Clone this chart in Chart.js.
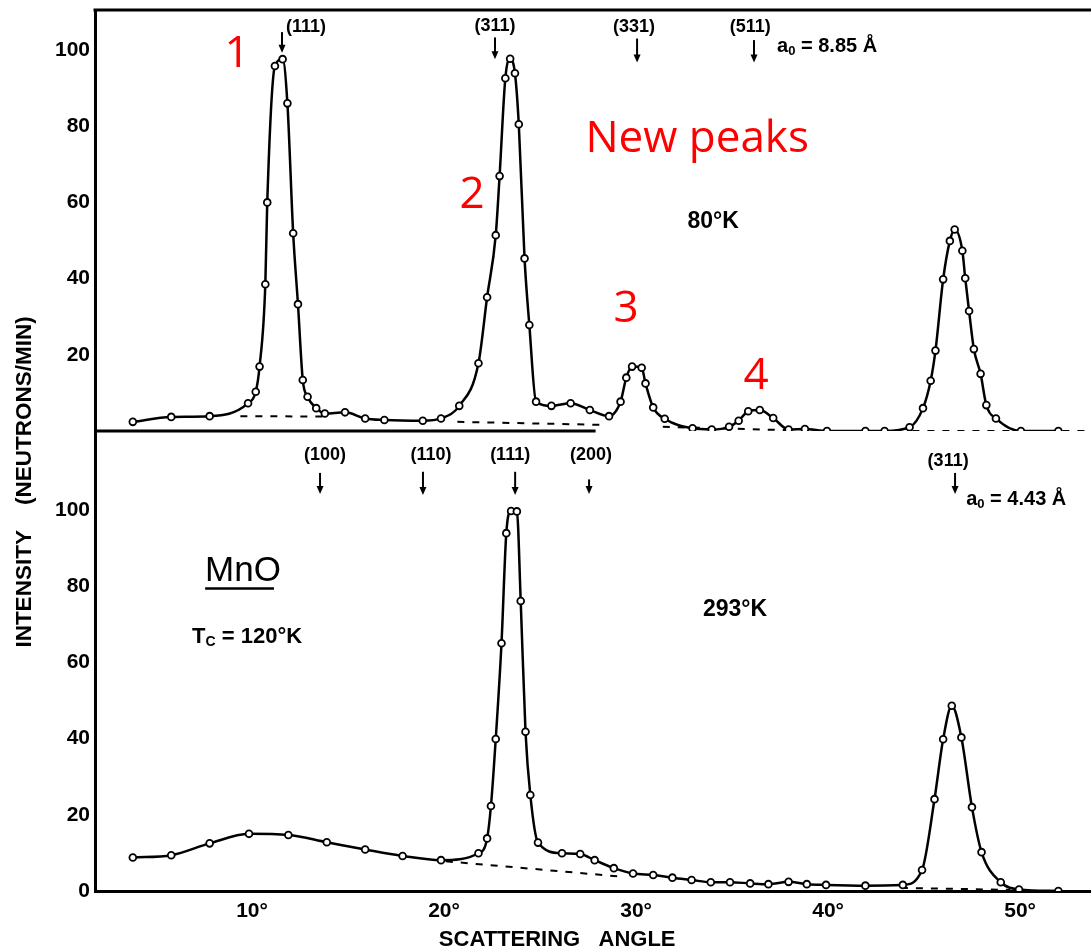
<!DOCTYPE html>
<html><head><meta charset="utf-8">
<script src="https://cdn.jsdelivr.net/npm/chart.js@4.4.1/dist/chart.umd.min.js"></script>
<style>html,body{margin:0;padding:0;background:#fff;}canvas{display:block;}</style>
</head><body><canvas id="c" width="1091" height="951"></canvas>
<script>
// ---- data ----
const topAngles = [4.0, 6.0, 8.0, 10.0, 10.4, 10.6, 10.9, 11.0, 11.4, 11.8, 12.05, 12.35, 12.6, 12.85, 13.1, 13.55, 14.0, 15.05, 16.1, 17.1, 19.1, 20.05, 21.0, 22.0, 22.45, 22.9, 23.1, 23.4, 23.65, 23.9, 24.1, 24.4, 24.65, 25.0, 25.8, 26.8, 27.8, 28.8, 29.4, 29.7, 30.0, 30.5, 30.7, 31.1, 31.7, 33.15, 34.15, 35.05, 35.55, 36.05, 36.65, 37.35, 38.15, 39.0, 40.15, 42.15, 43.15, 44.45, 45.15, 45.55, 45.8, 46.2, 46.55, 46.8, 47.2, 47.35, 47.55, 47.8, 48.15, 48.45, 48.95, 50.25, 52.2];
const topIntensity = [2.4, 3.7, 3.9, 7.3, 10.3, 16.9, 38.5, 60.0, 95.8, 97.6, 86.0, 51.9, 33.3, 13.4, 9.0, 6.0, 4.6, 4.9, 3.3, 2.9, 2.7, 3.3, 6.6, 17.8, 35.1, 51.4, 66.9, 92.6, 97.7, 93.9, 80.5, 45.3, 27.8, 7.7, 6.6, 7.3, 5.5, 3.9, 7.7, 14.0, 16.9, 16.6, 12.5, 6.2, 3.2, 0.7, 0.4, 1.1, 2.7, 5.2, 5.5, 3.4, 0.4, 0.5, 0, 0, 0, 1.0, 6.0, 13.2, 21.1, 39.8, 49.9, 52.9, 47.3, 40.1, 31.5, 21.5, 15.0, 6.8, 3.3, 0, 0];
const topBaseAngles = [9.6, 13.9, 16, 20.9, 28.6, 30, 31.6, 38.2, 40, 44.6, 53.9];
const topBaseIntensity = [3.9, 3.8, null, 2.4, 1.6, null, 1.1, 0.2, null, 0, 0];

const botAngles = [4.0, 6.0, 8.0, 10.05, 12.1, 14.1, 16.1, 18.05, 20.05, 22.0, 22.45, 22.65, 22.9, 23.2, 23.45, 23.7, 24.0, 24.2, 24.45, 24.7, 25.1, 26.35, 27.3, 28.05, 29.05, 30.05, 31.1, 32.1, 33.1, 34.1, 35.1, 36.15, 37.1, 38.15, 39.1, 40.1, 42.15, 44.1, 45.1, 45.75, 46.2, 46.65, 47.15, 47.7, 48.2, 49.2, 50.15, 52.2];
const botIntensity = [8.8, 9.4, 12.5, 15.0, 14.7, 12.8, 10.9, 9.2, 8.1, 9.9, 13.8, 22.3, 39.9, 65.0, 93.9, 99.7, 99.6, 76.1, 41.8, 25.2, 12.7, 9.9, 9.7, 8.1, 6.0, 4.6, 4.2, 3.5, 2.9, 2.3, 2.3, 2.0, 1.8, 2.4, 1.8, 1.6, 1.4, 1.6, 5.5, 24.1, 39.8, 48.6, 40.3, 22.0, 10.2, 2.3, 0.4, 0];
const botBaseAngles = [20.3, 29.6, 36, 44.0, 49.7];
const botBaseIntensity = [7.8, 3.7, null, 0.8, 0.3];

const topReflections = ['(111)', '(311)', '(331)', '(511)'];
const topReflectionAngles = [11.77, 22.86, 30.26, 36.35];
const botReflections = ['(100)', '(110)', '(111)', '(200)', '(311)'];
const botReflectionAngles = [13.75, 19.11, 23.91, 27.76, 46.82];

const xTicks = [10, 20, 30, 40, 50];
const xTickLabels = ['10°', '20°', '30°', '40°', '50°'];
const yTicksTop = [20, 40, 60, 80, 100];
const yTicksBot = [0, 20, 40, 60, 80, 100];

// ---- layout / styling ----
const F = '"Liberation Sans", Arial, sans-serif';
const RED = '#ff0000';
const topRefLayout = [ // label x, label y, arrow top, arrow bottom (data units)
  {lx: 13.02, ly: 106.0, a1: 104.7, a2: 99.3},
  {lx: 22.86, ly: 106.2, a1: 103.3, a2: 97.6},
  {lx: 30.10, ly: 106.0, a1: 103.0, a2: 96.7},
  {lx: 36.15, ly: 106.0, a1: 102.6, a2: 96.7}
];
const botRefLayout = [
  {lx: 14.01, ly: 114.4, a1: 109.7, a2: 104.2},
  {lx: 19.53, ly: 114.4, a1: 110.0, a2: 103.9},
  {lx: 23.65, ly: 114.4, a1: 110.0, a2: 103.9},
  {lx: 27.86, ly: 114.4, a1: 108.0, a2: 104.2},
  {lx: 46.46, ly: 112.9, a1: 109.7, a2: 104.2}
];

function rich(ctx, segs, x, y, align) {
  let w = 0;
  segs.forEach(s => { ctx.font = s.font; s.w = ctx.measureText(s.t).width; w += s.w; });
  let cx = align === 'left' ? x : x - w / 2;
  ctx.textAlign = 'left'; ctx.textBaseline = 'middle';
  segs.forEach(s => { ctx.font = s.font; ctx.fillText(s.t, cx, y + (s.dy || 0)); cx += s.w; });
}

const annotPlugin = {
  id: 'annot',
  afterDraw(chart) {
    const {ctx, chartArea: ca} = chart;
    const x = chart.scales.x, yT = chart.scales.yTop, yB = chart.scales.yBot;
    ctx.save();
    ctx.fillStyle = '#000'; ctx.strokeStyle = '#000'; ctx.lineCap = 'butt';
    const line = (x1, y1, x2, y2) => { ctx.beginPath(); ctx.moveTo(x1, y1); ctx.lineTo(x2, y2); ctx.stroke(); };
    // frame: top edge and partial divider between the panels
    ctx.lineWidth = 3;
    line(ca.left - 1.5, ca.top, ca.right, ca.top);
    const yd = yT.getPixelForValue(0);
    line(ca.left, yd, x.getPixelForValue(28.1), yd);

    const arrow = (xp, y1, y2) => {
      ctx.lineWidth = 2;
      line(xp, y1, xp, y2 - 6);
      ctx.beginPath(); ctx.moveTo(xp - 3.5, y2 - 8); ctx.lineTo(xp + 3.5, y2 - 8); ctx.lineTo(xp, y2); ctx.closePath(); ctx.fill();
    };
    const idxFont = 'bold 18px ' + F;
    ctx.textAlign = 'center'; ctx.textBaseline = 'middle';
    topReflections.forEach((t, i) => {
      const L = topRefLayout[i];
      ctx.font = idxFont;
      ctx.fillText(t, x.getPixelForValue(L.lx), yT.getPixelForValue(L.ly));
      arrow(x.getPixelForValue(topReflectionAngles[i]), yT.getPixelForValue(L.a1), yT.getPixelForValue(L.a2));
    });
    botReflections.forEach((t, i) => {
      const L = botRefLayout[i];
      ctx.font = idxFont;
      ctx.fillText(t, x.getPixelForValue(L.lx), yB.getPixelForValue(L.ly));
      arrow(x.getPixelForValue(botReflectionAngles[i]), yB.getPixelForValue(L.a1), yB.getPixelForValue(L.a2));
    });
    // lattice constants
    const big = 'bold 20px ' + F, sub = 'bold 13px ' + F;
    rich(ctx, [{t: 'a', font: big}, {t: '0', font: sub, dy: 4}, {t: ' = 8.85 Å', font: big}],
      x.getPixelForValue(37.55), yT.getPixelForValue(100.8), 'left');
    rich(ctx, [{t: 'a', font: big}, {t: '0', font: sub, dy: 4}, {t: ' = 4.43 Å', font: big}],
      x.getPixelForValue(47.4), yB.getPixelForValue(102.6), 'left');
    // temperatures
    ctx.textAlign = 'center'; ctx.textBaseline = 'middle';
    ctx.font = 'bold 23px ' + F;
    ctx.fillText('80°K', x.getPixelForValue(34.22), yT.getPixelForValue(54.9));
    ctx.fillText('293°K', x.getPixelForValue(35.36), yB.getPixelForValue(73.8));
    // MnO title
    ctx.font = '35px ' + F;
    const mx = x.getPixelForValue(9.74), my = yB.getPixelForValue(84.0);
    ctx.fillText('MnO', mx, my);
    const mw = ctx.measureText('MnO').width;
    ctx.lineWidth = 2.5;
    line(mx - mw / 2, yB.getPixelForValue(79.4), mx + mw / 2 - 7, yB.getPixelForValue(79.4));
    rich(ctx, [{t: 'T', font: 'bold 22px ' + F}, {t: 'C', font: 'bold 14px ' + F, dy: 5}, {t: ' = 120°K', font: 'bold 22px ' + F}],
      x.getPixelForValue(9.95), yB.getPixelForValue(66.7), 'center');
    // red annotations
    ctx.fillStyle = RED; ctx.textAlign = 'center'; ctx.textBaseline = 'middle';
    ctx.font = '44px "Open Sans", "Liberation Sans", sans-serif';
    ctx.fillText('1', x.getPixelForValue(9.43), yT.getPixelForValue(98.9));
    ctx.fillText('2', x.getPixelForValue(21.67), yT.getPixelForValue(61.9));
    ctx.fillText('3', x.getPixelForValue(29.69), yT.getPixelForValue(31.8));
    ctx.fillText('4', x.getPixelForValue(36.46), yT.getPixelForValue(14.4));
    ctx.fillText('New peaks', x.getPixelForValue(33.39), yT.getPixelForValue(76.4));
    // axis titles
    ctx.fillStyle = '#000';
    ctx.font = 'bold 22px ' + F;
    ctx.fillText('SCATTERING   ANGLE', x.getPixelForValue(26.1), ca.bottom + 49);
    ctx.save();
    ctx.translate(25, ca.top + 472);
    ctx.rotate(-Math.PI / 2);
    ctx.font = 'bold 22.5px ' + F;
    ctx.fillText('INTENSITY    (NEUTRONS/MIN)', 0, 0);
    ctx.restore();
    ctx.restore();
  }
};

const noPad = s => { s.paddingTop = 0; s.paddingBottom = 0; s.paddingLeft = 0; s.paddingRight = 0; };
const pts = (xs, ys) => xs.map((v, i) => ({x: v, y: ys[i]}));
const curveStyle = {borderColor: '#000', borderWidth: 2.5, pointRadius: 3.4, pointBorderWidth: 1.8,
  pointBackgroundColor: '#fff', pointBorderColor: '#000', cubicInterpolationMode: 'monotone', fill: false};
const baseStyle = {borderColor: '#000', borderWidth: 2, borderDash: [7, 8], pointRadius: 0, tension: 0, spanGaps: false, fill: false};
const tickFont = {family: F, size: 21, weight: 'bold'};

new Chart(document.getElementById('c').getContext('2d'), {
  type: 'line',
  data: {datasets: [
    {label: '80°K', data: pts(topAngles, topIntensity), yAxisID: 'yTop', ...curveStyle},
    {label: '293°K', data: pts(botAngles, botIntensity), yAxisID: 'yBot', ...curveStyle},
    {label: '80°K background', data: pts(topBaseAngles, topBaseIntensity), yAxisID: 'yTop', ...baseStyle},
    {label: '293°K background', data: pts(botBaseAngles, botBaseIntensity), yAxisID: 'yBot', ...baseStyle}
  ]},
  options: {
    responsive: false, animation: false, devicePixelRatio: 1,
    layout: {autoPadding: false, padding: {top: 10, left: 0, right: 0, bottom: 0}},
    plugins: {legend: {display: false}, tooltip: {enabled: false}, title: {display: false}},
    scales: {
      x: {type: 'linear', position: 'bottom', min: 2.03, max: 53.9,
        grid: {display: false, drawTicks: false}, border: {display: true, color: '#000', width: 3},
        ticks: {color: '#000', font: tickFont, padding: 8, labelOffset: 4, maxRotation: 0, autoSkip: false,
          callback: v => { const i = xTicks.indexOf(v); return i >= 0 ? xTickLabels[i] : ''; }},
        afterBuildTicks: s => { s.ticks = xTicks.map(v => ({value: v})); },
        afterFit: s => { s.height = 60; noPad(s); }},
      yBot: {type: 'linear', position: 'left', stack: 'panels', stackWeight: 460, min: 0, max: 120.7,
        grid: {display: false, drawTicks: false}, border: {display: true, color: '#000', width: 3},
        ticks: {color: '#000', font: tickFont, padding: 5},
        afterBuildTicks: s => { s.ticks = yTicksBot.map(v => ({value: v})); },
        afterFit: s => { s.width = 95; noPad(s); }},
      yTop: {type: 'linear', position: 'left', stack: 'panels', stackWeight: 421, min: 0, max: 110.5,
        grid: {display: false, drawTicks: false}, border: {display: true, color: '#000', width: 3},
        ticks: {color: '#000', font: tickFont, padding: 5},
        afterBuildTicks: s => { s.ticks = yTicksTop.map(v => ({value: v})); },
        afterFit: s => { s.width = 95; noPad(s); }}
    }
  },
  plugins: [annotPlugin]
});
</script></body></html>
